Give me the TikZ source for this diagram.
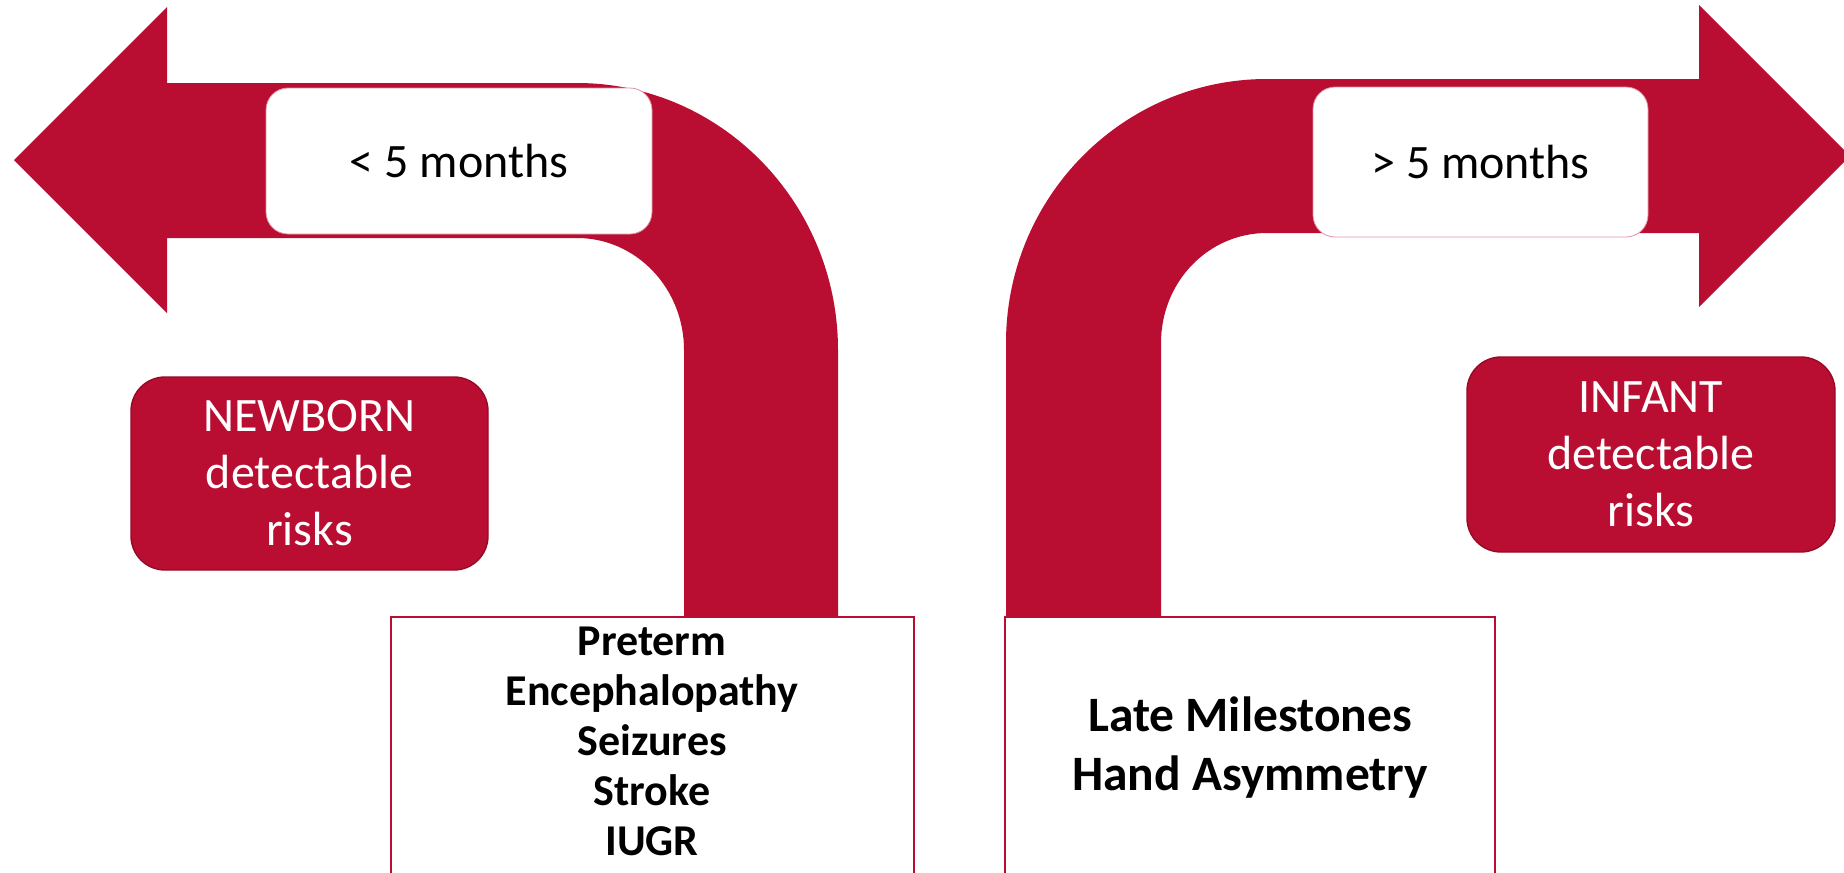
\documentclass[tikz,border=0pt]{standalone}
\usepackage{fontspec}
\setmainfont{Carlito}
\definecolor{brick}{RGB}{185,14,49}
\definecolor{brickdark}{RGB}{150,10,38}
\begin{document}
\begin{tikzpicture}[x=0.5pt,y=-0.5pt,
  arrowshape/.style={fill=brick},
  tagbox/.style={draw=brick!45, line width=0.4pt, fill=white, rounded corners=11pt, inner sep=0pt, font=\fontsize{24}{28.5}\selectfont},
  agebox/.style={draw=brickdark, line width=0.7pt, fill=brick, text=white, rounded corners=17pt, inner sep=0pt, align=center, font=\fontsize{24}{28.5}\selectfont},
  listframe/.style={draw=brick, line width=1pt, fill=white},
  listtext/.style={align=center, inner sep=0pt, text=black}
]
\useasboundingbox (0,0) rectangle (1844,873);
\clip (0,0) rectangle (1844,873);

% left bent arrow
\fill[arrowshape] (14,160) -- (167,7) -- (167,83) -- (577,83)
  .. controls (721,83) and (838,203) .. (838,350) -- (838,617) -- (684,617) -- (684,350)
  .. controls (684,288) and (636,238) .. (577,238) -- (167,238) -- (167,313) -- cycle;

% right bent arrow
\fill[arrowshape] (1006,617) -- (1006,343)
  .. controls (1006,197) and (1123,79) .. (1267,79) -- (1699,79) -- (1699,5) -- (1850,156)
  -- (1699,307) -- (1699,233) -- (1267,233)
  .. controls (1208,233) and (1161,282) .. (1161,343) -- (1161,617) -- cycle;

% age tags
\node[tagbox, minimum width=193pt, minimum height=73pt] (lessfive) at (459,161) {< 5 months};
\node[tagbox, minimum width=167.5pt, minimum height=75pt] (morefive) at (1480.5,162) {> 5 months};

% detectable risk boxes
\node[agebox, minimum width=178.5pt, minimum height=96.5pt] (newborn) at (309.5,473.5) {NEWBORN\\detectable\\risks};
\node[agebox, minimum width=184pt, minimum height=97.5pt] (infant) at (1651,454.5) {INFANT\\detectable\\risks};

% lists
\draw[listframe] (391,617) rectangle (914,900);
\draw[listframe] (1005,617) rectangle (1495,900);
\node[listtext, font=\bfseries\fontsize{22}{25}\selectfont] (newbornlist) at (652,741)
  {Preterm\\Encephalopathy\\Seizures\\Stroke\\IUGR};
\node[listtext, font=\bfseries\fontsize{24.75}{29.5}\selectfont] (infantlist) at (1250,748)
  {Late Milestones\\Hand Asymmetry};
\end{tikzpicture}
\end{document}
